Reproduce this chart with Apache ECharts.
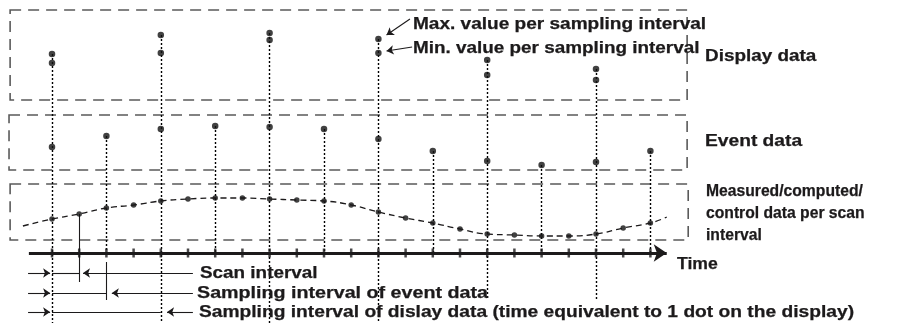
<!DOCTYPE html>
<html>
<head>
<meta charset="UTF-8">
<title>Display / event / scan data</title>
<script src="https://cdn.jsdelivr.net/npm/echarts@6/dist/echarts.min.js"></script>
<style>html,body{margin:0;padding:0;background:#fff;}</style>
</head>
<body>
<div id="main" style="width:902px;height:323px;"></div>
<script>
// x = time, in scan intervals;  y = level of the mark (schematic units)
var scanIdx = [0,1,2,3,4,5,6,7,8,9,10,11,12,13,14,15,16,17,18,19,20,21,22];
var scanVal = [104,109,115,118,122,124,125,125,124,123,122,118,111,105,100,94,89,88,87,87,89,95,100];

var eventIdx = [0,2,4,6,8,10,12,14,16,18,20,22];
var eventVal = [176,187,194,197,196,194,184,172,162,158,161,172];

var dispIdx = [0,4,8,12,16,20];
var dispMax = [269,288,290,284,263,254];
var dispMin = [260,270,283,270,248,243];
var dispStemEnd = [0,0,0,0,23,23];

// dashed trend through the scan values, a little past both ends
var trendIdx = [-1.07].concat(scanIdx, [22.6]);
var trendVal = [97].concat(scanVal, [106]);

// the three dashed bands
var bandFrom = [-1.54, -1.58, -1.54];
var bandTo   = [23.35, 23.35, 23.39];
var bandLow  = [223, 153, 83];
var bandHigh = [313, 208, 139];

var timeLevel = 70;
var timeFrom = -0.85, timeTo = 22.6;

// interval rows below the time axis
var rowLevel = [50, 30, 11];
var rowSpan  = [1, 2, 4];
var rowHead  = [1.14, 2.2, 4.23];
var rowTail  = 5.18;
var rowText  = ['Scan interval', 'Sampling interval of event data',
  'Sampling interval of dislay data (time equivalent to 1 dot on the display)'];

var ink = '#1c1a1b';
var FONT = 'bold 16px "Liberation Sans", Arial, sans-serif';

var myChart = echarts.init(document.getElementById('main'));

function pairs(xs, ys) { return xs.map(function (x, k) { return [x, ys[k]]; }); }
function seg(x1, y1, x2, y2) { return { coords: [[x1, y1], [x2, y2]] }; }

var dispStems = dispIdx.map(function (x, k) { return seg(x, dispMax[k], x, dispStemEnd[k]); });
// where a display stem already runs, the event stem would only double it
var eventStems = [];
eventIdx.forEach(function (x, k) {
  if (dispIdx.indexOf(x) < 0) eventStems.push(seg(x, eventVal[k], x, timeLevel));
});

var plainSegs = [];
var arrowSegs = [];
rowLevel.forEach(function (h, k) {
  arrowSegs.push(seg(-0.88, h, -0.07, h));
  arrowSegs.push(seg(rowTail, h, rowHead[k], h));
  plainSegs.push(seg(0, h, rowSpan[k], h));
});
plainSegs.push(seg(1, scanVal[1], 1, 41));
plainSegs.push(seg(2, 61, 2, 23));
// callouts to the max / min dots
arrowSegs.push(seg(13.16, 304, 12.3, 288));
arrowSegs.push(seg(13.24, 276, 12.3, 272));

var boxes = bandFrom.map(function (x, k) {
  return [{ coord: [x, bandHigh[k]] }, { coord: [bandTo[k], bandLow[k]] }];
});

function txt(s, x, y, sx) {
  return { type: 'text', x: x, y: y, scaleX: sx, z: 100,
    style: { text: s, font: FONT, fill: ink, stroke: ink, lineWidth: 0.25,
      verticalAlign: 'middle', textVerticalAlign: 'middle' } };
}

var option = {
  animation: false,
  grid: { left: 0, right: 0, top: 0, bottom: 0 },
  xAxis: { type: 'value', min: -1.9118, max: 31.25, show: false },
  yAxis: { type: 'value', min: 0, max: 323, show: false },
  series: [
    { type: 'line', data: [], silent: true,
      markArea: { silent: true,
        itemStyle: { color: 'rgba(0,0,0,0)', borderColor: '#5a5a5a', borderWidth: 1.6, borderType: [11, 7] },
        data: boxes } },
    { type: 'lines', coordinateSystem: 'cartesian2d', silent: true, symbol: 'none',
      lineStyle: { color: '#000', width: 1.4, type: [2, 2], opacity: 1 }, data: dispStems.concat(eventStems) },
    { type: 'line', smooth: true, showSymbol: false, silent: true, data: pairs(trendIdx, trendVal),
      lineStyle: { color: ink, width: 1.3, type: [6, 4] } },
    { type: 'scatter', symbolSize: 5.5, itemStyle: { color: '#111' }, data: pairs(scanIdx, scanVal) },
    { type: 'scatter', symbolSize: 6.5, itemStyle: { color: '#111' }, data: pairs(eventIdx, eventVal) },
    { type: 'scatter', symbolSize: 6.5, itemStyle: { color: '#111' }, data: pairs(dispIdx, dispMax) },
    { type: 'scatter', symbolSize: 6.5, itemStyle: { color: '#111' }, data: pairs(dispIdx, dispMin) },
    { type: 'lines', coordinateSystem: 'cartesian2d', silent: true, symbol: ['none', 'arrow'], symbolSize: 13,
      lineStyle: { color: ink, width: 3, opacity: 1 }, data: [seg(timeFrom, timeLevel, timeTo, timeLevel)] },
    { type: 'scatter', symbol: 'rect', symbolSize: [2.5, 9], itemStyle: { color: ink },
      data: scanIdx.map(function (x) { return [x, timeLevel]; }) },
    { type: 'lines', coordinateSystem: 'cartesian2d', silent: true, symbol: 'none',
      lineStyle: { color: ink, width: 1.1, opacity: 1 }, data: plainSegs },
    { type: 'lines', coordinateSystem: 'cartesian2d', silent: true, symbol: ['none', 'arrow'], symbolSize: 7,
      lineStyle: { color: ink, width: 1.1, opacity: 1 }, data: arrowSegs }
  ],
  graphic: [
    txt('Max. value per sampling interval', 413, 25, 1.19),
    txt('Min. value per sampling interval', 413, 49, 1.18),
    txt('Display data', 705, 57, 1.18),
    txt('Event data', 705, 142, 1.2),
    txt('Measured/computed/', 706, 192, 0.98),
    txt('control data per scan', 706, 214, 0.98),
    txt('interval', 706, 236, 0.98),
    txt('Time', 677, 265, 1.1),
    txt(rowText[0], 200, 274, 1.18),
    txt(rowText[1], 197, 294, 1.23),
    txt(rowText[2], 199, 313, 1.2)
  ]
};
myChart.setOption(option);
</script>
</body>
</html>
